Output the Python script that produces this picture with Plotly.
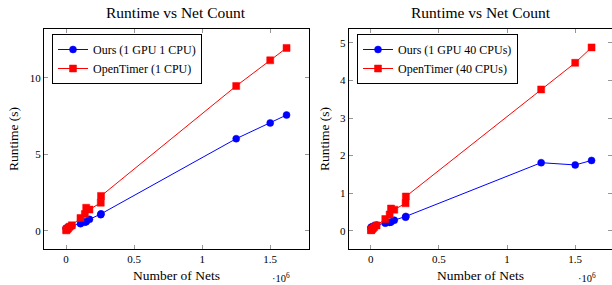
import plotly.graph_objects as go

# Shared net counts (x values)
net_counts = [1e3, 3e3, 8e3, 15e3, 25e3, 42e3, 106e3, 138e3, 148e3, 172e3, 255e3, 257e3, 1250e3, 1500e3, 1620e3]

# Left chart: single CPU
ours_1cpu = [0.15, 0.16, 0.18, 0.2, 0.25, 0.3, 0.46, 0.55, 0.59, 0.74, 1.05, 1.1, 6.02, 7.05, 7.57]
opentimer_1cpu = [0.02, 0.06, 0.1, 0.15, 0.25, 0.35, 0.83, 1.09, 1.5, 1.38, 1.83, 2.27, 9.47, 11.15, 11.96]

# Right chart: 40 CPUs
ours_40cpu = [0.08, 0.09, 0.1, 0.11, 0.13, 0.15, 0.2, 0.22, 0.23, 0.28, 0.36, 0.38, 1.81, 1.75, 1.87]
opentimer_40cpu = [0.01, 0.02, 0.04, 0.06, 0.1, 0.14, 0.31, 0.43, 0.59, 0.56, 0.73, 0.91, 3.76, 4.47, 4.88]

x_tickvals = [0, 0.5e6, 1e6, 1.5e6]
x_ticktext = ["0", "0.5", "1", "1.5"]
left_yticks = [0, 5, 10]
right_yticks = [0, 1, 2, 3, 4, 5]

W, H = 612, 285
FONT = "Liberation Serif"
BLUE = "rgb(0,0,255)"
RED = "rgb(255,0,0)"

fig = go.Figure()

def add_series(x, y, name, color, symbol, xa, ya, legend):
    fig.add_trace(go.Scatter(
        x=x, y=y, name=name, mode="lines+markers",
        line=dict(color=color, width=1),
        marker=dict(color=color, symbol=symbol, size=7,
                    line=dict(color=color, width=0.5)),
        xaxis=xa, yaxis=ya, legend=legend))

add_series(net_counts, ours_1cpu, "Ours (1 GPU 1 CPU)", BLUE, "circle", "x", "y", "legend")
add_series(net_counts, opentimer_1cpu, "OpenTimer (1 CPU)", RED, "square", "x", "y", "legend")
add_series(net_counts, ours_40cpu, "Ours (1 GPU 40 CPUs)", BLUE, "circle", "x2", "y2", "legend2")
add_series(net_counts, opentimer_40cpu, "OpenTimer (40 CPUs)", RED, "square", "x2", "y2", "legend2")

def px(v):
    return v / W

def py(v):
    return 1 - v / H

ydom = [py(249), py(29)]
axis_common = dict(showline=True, linecolor="black", linewidth=1, mirror="ticks",
                   ticks="inside", ticklen=4, tickcolor="rgb(150,150,150)",
                   showgrid=False, zeroline=False, automargin=False,
                   tickfont=dict(family=FONT, size=11, color="black"))

fig.update_layout(
    width=W, height=H,
    margin=dict(l=0, r=0, t=0, b=0, autoexpand=False),
    paper_bgcolor="white", plot_bgcolor="white",
    font=dict(family=FONT, color="black"),
    xaxis=dict(domain=[px(44), px(308.6)], range=[-0.162e6, 1.782e6],
               tickvals=x_tickvals, ticktext=x_ticktext, anchor="y", **axis_common),
    yaxis=dict(domain=ydom, range=[-1.2, 13.2], tickvals=left_yticks, anchor="x", **axis_common),
    xaxis2=dict(domain=[px(348.7), 1.0], range=[-0.1625e6, 1.77e6],
                tickvals=x_tickvals, ticktext=x_ticktext, anchor="y2", **axis_common),
    yaxis2=dict(domain=ydom, range=[-0.488, 5.37], tickvals=right_yticks, anchor="x2", **axis_common),
    legend=dict(x=px(52), y=py(34), xanchor="left", yanchor="top",
                bordercolor="black", borderwidth=1, bgcolor="white",
                font=dict(family=FONT, size=12), tracegroupgap=0, itemwidth=30),
    legend2=dict(x=px(357), y=py(34), xanchor="left", yanchor="top",
                 bordercolor="black", borderwidth=1, bgcolor="white",
                 font=dict(family=FONT, size=12), tracegroupgap=0, itemwidth=30),
    showlegend=True,
)

annotations = []
for cx, ylabel_x in [((44 + 308.6) / 2, 13), ((348.7 + 613) / 2, 324)]:
    annotations.append(dict(text="Runtime vs Net Count", x=px(cx), y=py(12), xref="paper", yref="paper",
                            xanchor="center", yanchor="middle",
                            showarrow=False, font=dict(family=FONT, size=15.5)))
    annotations.append(dict(text="Number of Nets", x=px(cx), y=py(275), xref="paper", yref="paper",
                            xanchor="center", yanchor="middle",
                            showarrow=False, font=dict(family=FONT, size=13.5)))
    annotations.append(dict(text="Runtime (s)", x=px(ylabel_x), y=py(139), xref="paper", yref="paper",
                            xanchor="center", yanchor="middle",
                            showarrow=False, textangle=-90, font=dict(family=FONT, size=13.5)))
for ex in [281, 587]:
    annotations.append(dict(text="·10<sup>6</sup>", x=px(ex), y=py(277), xref="paper", yref="paper",
                            xanchor="center", yanchor="middle",
                            showarrow=False, font=dict(family=FONT, size=10.5)))
fig.update_layout(annotations=annotations)

fig.write_html("out.html", config={"displayModeBar": False},
               post_script="document.body.style.margin='0';document.body.style.overflow='hidden';")
